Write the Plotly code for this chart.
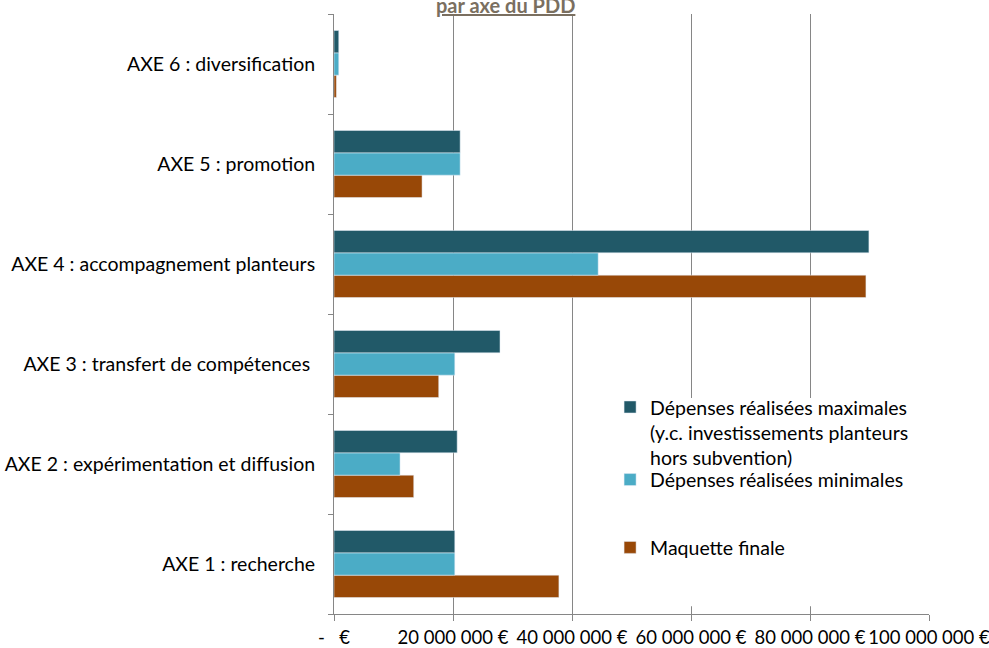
import plotly.graph_objects as go

# Axes of the PDD (bottom to top)
categories = [
    "AXE 1 : recherche",
    "AXE 2 : expérimentation et diffusion",
    "AXE 3 : transfert de compétences ",
    "AXE 4 : accompagnement planteurs",
    "AXE 5 : promotion",
    "AXE 6 : diversification",
]

# Amounts in euros
depenses_max = [20.3e6, 20.7e6, 27.9e6, 89.9e6, 21.2e6, 0.8e6]
depenses_min = [20.3e6, 11.1e6, 20.3e6, 44.4e6, 21.2e6, 0.8e6]
maquette_finale = [37.8e6, 13.4e6, 17.6e6, 89.4e6, 14.8e6, 0.4e6]

name_max = "Dépenses réalisées maximales<br>(y.c. investissements planteurs<br>hors subvention)"
name_min = "Dépenses réalisées minimales"
name_maq = "Maquette finale"

tick_vals = [0, 20e6, 40e6, 60e6, 80e6, 100e6]
tick_text = ["-   €", "20 000 000 €", "40 000 000 €", "60 000 000 €",
             "80 000 000 €", "100 000 000 €"]

DARK = "#215968"
LIGHT = "#4BACC6"
ORANGE = "#984807"
GRID = "#868686"
FONT = "Lato, 'Open Sans', sans-serif"
FSIZE = 19.5

fig = go.Figure()
# Horizontal grouped bars: first trace sits lowest within each group
fig.add_trace(go.Bar(y=categories, x=maquette_finale, orientation="h",
                     name=name_maq, marker_color=ORANGE, legend="legend3"))
fig.add_trace(go.Bar(y=categories, x=depenses_min, orientation="h",
                     name=name_min, marker_color=LIGHT, legend="legend2"))
fig.add_trace(go.Bar(y=categories, x=depenses_max, orientation="h",
                     name=name_max, marker_color=DARK, legend="legend"))

legend_style = dict(
    font=dict(family=FONT, size=FSIZE, color="#000000"),
    bgcolor="rgba(0,0,0,0)",
    xanchor="left", yanchor="top",
    itemwidth=30,
    tracegroupgap=0,
    valign="top",
)

fig.update_layout(
    width=989, height=648,
    margin=dict(l=334, r=60, t=14, b=34, autoexpand=False),
    paper_bgcolor="white", plot_bgcolor="white",
    barmode="group", bargap=0.33, bargroupgap=0,
    font=dict(family=FONT, size=FSIZE, color="#000000"),
    showlegend=True,
    legend=dict(x=0.464, y=0.377, **legend_style),
    legend2=dict(x=0.464, y=0.256, **legend_style),
    legend3=dict(x=0.464, y=0.143, **legend_style),
    xaxis=dict(
        range=[0, 100e6], tickmode="array", tickvals=tick_vals, ticktext=tick_text,
        tickangle=0,
        showgrid=True, gridcolor=GRID, gridwidth=1,
        showline=True, linecolor=GRID, linewidth=1,
        ticks="outside", ticklen=6, tickcolor=GRID, ticklabelstandoff=1,
        ticklabeloverflow="allow",
        zeroline=False, fixedrange=True, automargin=False,
        tickfont=dict(family=FONT, size=18.5, color="#000000"),
    ),
    yaxis=dict(
        type="category", categoryorder="array", categoryarray=categories,
        showgrid=False, showline=True, linecolor=GRID, linewidth=1,
        ticks="outside", ticklen=5, tickcolor=GRID, tickson="boundaries",
        ticklabelstandoff=14, ticklabeloverflow="allow",
        zeroline=False, fixedrange=True, automargin=False,
        tickfont=dict(family=FONT, size=FSIZE, color="#000000"),
    ),
)

# White backdrop behind the legend block, hiding the gridlines there
fig.add_shape(type="rect", xref="paper", yref="paper",
              x0=0.489, x1=0.99, y0=0.013, y1=0.36,
              fillcolor="white", line_width=0, layer="above")

# Last line of the chart title
fig.add_annotation(
    text="<b><u>par axe du PDD</u></b>", xref="paper", yref="paper",
    x=0.288, y=1, xanchor="center", yanchor="bottom", yshift=-5,
    showarrow=False, font=dict(family=FONT, size=20, color="#7A6F60"),
)

fig.write_html("out.html")
